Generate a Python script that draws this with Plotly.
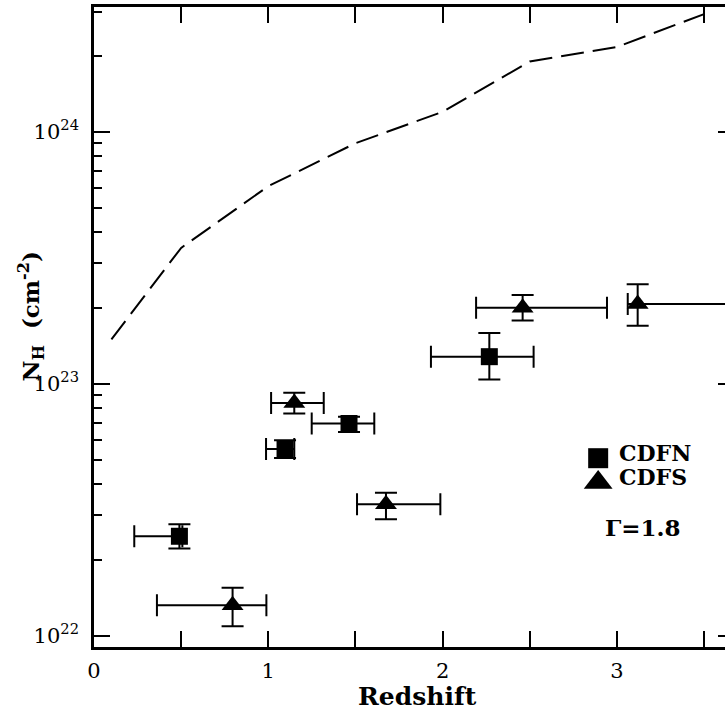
import plotly.graph_objects as go

# ---------------- data ----------------
# CDFN (squares)
z_cdfn = [0.49, 1.096, 1.463, 2.268]
nh_cdfn = [2.48e22, 5.5e22, 6.95e22, 1.28e23]
z_cdfn_err_minus = [0.259, 0.109, 0.214, 0.335]
z_cdfn_err_plus = [0.017, 0.053, 0.145, 0.254]
nh_cdfn_err_plus = [0.29e22, 0.47e22, 0.45e22, 0.31e23]
nh_cdfn_err_minus = [0.26e22, 0.43e22, 0.52e22, 0.24e23]

# CDFS (triangles)
z_cdfs = [0.795, 1.149, 1.675, 2.459, 3.119]
nh_cdfs = [1.32e22, 8.39e22, 3.32e22, 2.0e23, 2.07e23]
z_cdfs_err_minus = [0.434, 0.133, 0.166, 0.267, 0.057]
z_cdfs_err_plus = [0.194, 0.169, 0.312, 0.484, 0.58]
nh_cdfs_err_plus = [0.23e22, 0.81e22, 0.37e22, 0.25e23, 0.41e23]
nh_cdfs_err_minus = [0.23e22, 0.77e22, 0.42e22, 0.22e23, 0.37e23]

# dashed curve
z_curve = [0.1, 0.5, 1.0, 1.5, 2.0, 2.5, 3.0, 3.5]
nh_curve = [1.50e23, 3.46e23, 6.08e23, 9.0e23, 1.2e24, 1.9e24, 2.17e24, 2.93e24]

# axis ticks
x_tickvals = [0, 1, 2, 3]
x_ticktext = ["0", "1", "2", "3"]
y_tickvals = [1e22, 1e23, 1e24]
y_ticktext = ["10<sup>22</sup>", "10<sup>23</sup>", "10<sup>24</sup>"]
y_minor = [m * 10.0 ** e for e in (21, 22, 23, 24) for m in range(2, 10)]

legend_labels = ["CDFN", "CDFS"]
legend_symbols = ["square", "triangle-up"]
gamma_label = "Γ=1.8"

# ---------------- figure ----------------
SERIF = "DejaVu Serif"
X_RANGE = [0, 3.620]
Y_RANGE = [21.955, 24.495]

fig = go.Figure()

fig.add_trace(go.Scatter(
    x=z_curve, y=nh_curve, mode="lines",
    line=dict(color="black", width=2, dash="23px,9px"),
    showlegend=False, hoverinfo="skip"))

err_style = dict(type="data", color="black", thickness=2, width=11)

fig.add_trace(go.Scatter(
    x=z_cdfn, y=nh_cdfn, mode="markers",
    marker=dict(symbol="square", size=17, color="black"),
    error_x=dict(array=z_cdfn_err_plus, arrayminus=z_cdfn_err_minus, **err_style),
    error_y=dict(array=nh_cdfn_err_plus, arrayminus=nh_cdfn_err_minus, **err_style),
    showlegend=False))

fig.add_trace(go.Scatter(
    x=z_cdfs, y=nh_cdfs, mode="markers",
    marker=dict(symbol="triangle-up", size=19, color="black"),
    error_x=dict(array=z_cdfs_err_plus, arrayminus=z_cdfs_err_minus, **err_style),
    error_y=dict(array=nh_cdfs_err_plus, arrayminus=nh_cdfs_err_minus, **err_style),
    showlegend=False))

# helper trace so the right-hand tick axis is drawn
fig.add_trace(go.Scatter(x=[None], y=[None], xaxis="x", yaxis="y2",
                         showlegend=False, hoverinfo="skip"))

# legend glyphs (drawn in plot-fraction coordinates)
legend_pos_x = [0.799, 0.799]
legend_pos_y = [0.295, 0.257]
legend_sizes = [20, 25]
for i in range(2):
    fig.add_trace(go.Scatter(
        x=[legend_pos_x[i]], y=[legend_pos_y[i]], xaxis="x2", yaxis="y3",
        mode="markers",
        marker=dict(symbol=legend_symbols[i], size=legend_sizes[i], color="#000000",
                    opacity=1, line=dict(width=0, color="#000000")),
        showlegend=False, hoverinfo="skip"))

fig.update_layout(
    width=725, height=715,
    margin=dict(l=94, r=0, t=7, b=68),
    paper_bgcolor="white", plot_bgcolor="white",
    showlegend=False,
    xaxis=dict(
        range=X_RANGE, tickvals=x_tickvals, ticktext=x_ticktext,
        ticks="inside", ticklen=16, tickwidth=2, tickcolor="black",
        minor=dict(dtick=0.5, ticks="inside", ticklen=8, tickwidth=2, tickcolor="black"),
        showline=True, linewidth=2.5, linecolor="black", mirror="allticks",
        showgrid=False, zeroline=False,
        tickfont=dict(family=SERIF, size=21, color="black"),
        ticklabelstandoff=3),
    yaxis=dict(
        type="log", range=Y_RANGE,
        tickvals=y_tickvals, ticktext=y_ticktext,
        ticks="inside", ticklen=16, tickwidth=2, tickcolor="black",
        minor=dict(tickvals=y_minor, ticks="inside", ticklen=8, tickwidth=2, tickcolor="black"),
        showline=True, linewidth=2.5, linecolor="black", mirror=False,
        showgrid=False, zeroline=False,
        tickfont=dict(family=SERIF, size=21, color="black"),
        ticklabelstandoff=8),
    yaxis2=dict(
        type="log", range=Y_RANGE, overlaying="y", side="right", anchor="x",
        tickvals=y_tickvals, ticks="inside", ticklen=7, tickwidth=2, tickcolor="black",
        showticklabels=False, showline=False, showgrid=False, zeroline=False),
    xaxis2=dict(range=[0, 1], overlaying="x", visible=False, anchor="y3"),
    yaxis3=dict(range=[0, 1], overlaying="y", visible=False, anchor="x2"),
)

ann_font = dict(family=SERIF, size=22, color="black")
fig.add_annotation(xref="paper", yref="paper", x=0.829, y=0.303, text="<b>%s</b>" % legend_labels[0],
                   showarrow=False, xanchor="left", yanchor="middle", font=ann_font)
fig.add_annotation(xref="paper", yref="paper", x=0.829, y=0.266, text="<b>%s</b>" % legend_labels[1],
                   showarrow=False, xanchor="left", yanchor="middle", font=ann_font)
fig.add_annotation(xref="paper", yref="paper", x=0.870, y=0.1875, text="<b>%s</b>" % gamma_label,
                   showarrow=False, xanchor="center", yanchor="middle",
                   font=dict(family=SERIF, size=23, color="black"))
fig.add_annotation(xref="paper", yref="paper", x=0.512, y=-0.078, text="<b>Redshift</b>",
                   showarrow=False, xanchor="center", yanchor="middle",
                   font=dict(family=SERIF, size=25, color="black"))
fig.add_annotation(xref="paper", yref="paper", x=-0.101, y=0.517,
                   text="<b>N<sub>H</sub>  (cm<sup>-2</sup>)</b>", textangle=-90,
                   showarrow=False, xanchor="center", yanchor="middle",
                   font=dict(family=SERIF, size=23, color="black"))

fig.write_html("out.html")
